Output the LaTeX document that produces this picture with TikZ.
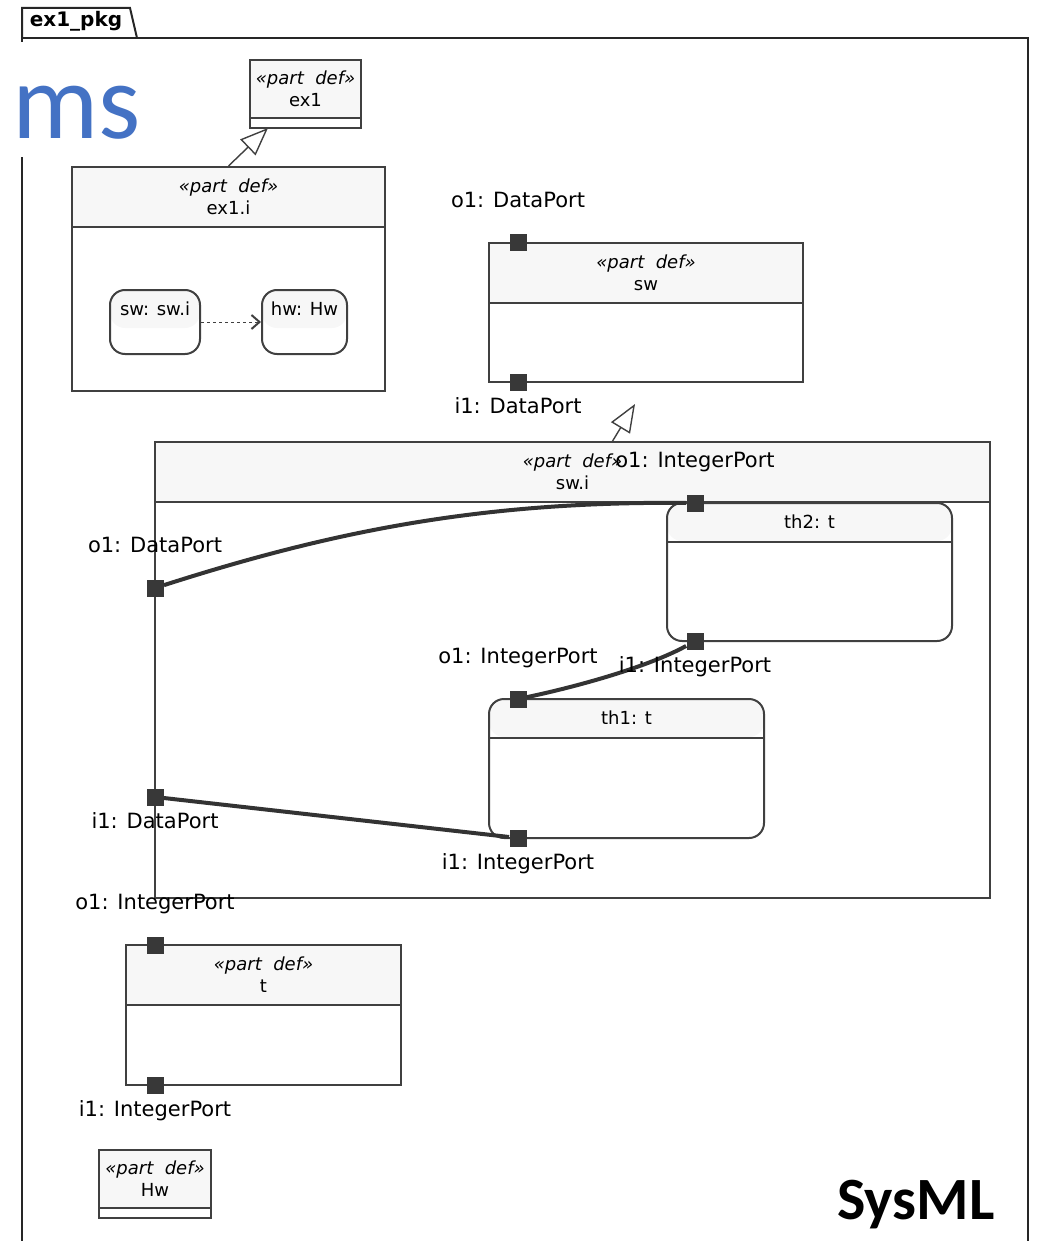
\documentclass[tikz,border=0pt]{standalone}
\usepackage{fontspec}
\setmainfont{DejaVu Sans}
\newfontfamily\slidefont{Carlito}
\usetikzlibrary{arrows.meta, calc, fit, positioning}

\definecolor{boxline}{HTML}{404040}
\definecolor{hdrfill}{HTML}{F7F7F7}
\definecolor{portfill}{HTML}{383838}
\definecolor{slideblue}{HTML}{4472C4}
\newcommand{\partdef}{\textit{«part~~def»}}

\begin{document}
\begin{tikzpicture}[x=0.5pt, y=-0.5pt]
      \tikzset{frame/.style = {draw=black!85, line width=1pt}}
      \tikzset{body/.style = {draw=boxline, line width=1pt, inner sep=0pt}}
      \tikzset{head/.style = {draw=boxline, fill=hdrfill, line width=1pt, inner sep=0pt}}
      \tikzset{htext/.style = {inner sep=0pt, align=center, font=\fontsize{9}{11}\selectfont}}
      \tikzset{usage/.style = {body, rounded corners=7.5pt}}
      \tikzset{usagehd/.style = {head, draw=none, rounded corners=7.5pt}}
      \tikzset{port/.style = {shape=rectangle, fill=portfill, minimum size=8.5pt, inner sep=0pt}}
      \tikzset{plabel/.style = {inner sep=0pt, text height=8pt, text depth=2.5pt, font=\fontsize{10.5}{12}\selectfont}}
      \tikzset{conn/.style = {draw=black!80, line width=2pt}}
      \tikzset{gen/.style = {draw=boxline, line width=0.7pt, -{Triangle[open, length=14pt, width=11pt]}}}
      \tikzset{dep/.style = {draw=boxline, line width=0.5pt, dash pattern=on 1.5pt off 1.5pt, -{Straight Barb[length=4pt, width=7pt, line width=1pt]}}}

      \useasboundingbox (0,0) rectangle (1040,1241);

      \draw[frame] (22,1241) -- (22,38) -- (1028,38) -- (1028,1241);
      \draw[frame] (22,38) -- (22,8) -- (130,8) -- (137,38);
      \node[font=\bfseries\fontsize{10}{12}\selectfont] (pkg) at (76,21) {ex1\_pkg};

      \node[font=\slidefont\fontsize{54}{58}\selectfont, text=slideblue, fill=white, anchor=base east,
            inner xsep=4pt, inner ysep=0pt, text height=48.5pt, text depth=9pt] (ms) at (149,139) {ms};

      \node[head, fit={(250,60) (361,118)}] (ex1hd) {};
      \node[body, fit={(250,60) (361,128)}] (ex1) {};
      \node[htext] (ex1tx) at (ex1hd) {\partdef\\ex1};

      \node[head, fit={(72,167) (385,227)}] (ex1ihd) {};
      \node[body, fit={(72,167) (385,391)}] (ex1i) {};
      \node[htext] (ex1itx) at (ex1ihd) {\partdef\\ex1.i};
      \node[usagehd, fit={(110,290) (200,328)}] (swparthd) {};
      \node[usage, fit={(110,290) (200,354)}] (swpart) {};
      \node[htext] (swparttx) at (swparthd) {sw: sw.i};
      \node[usagehd, fit={(262,290) (347,328)}] (hwparthd) {};
      \node[usage, fit={(262,290) (347,354)}] (hwpart) {};
      \node[htext] (hwparttx) at (hwparthd) {hw: Hw};
      \draw[dep] (swpart) -- (hwpart);

      \coordinate (ex1gen) at (268,128);
      \draw[gen] (ex1i.north) -- (ex1gen);

      \node[head, fit={(489,243) (803,303)}] (swhd) {};
      \node[body, fit={(489,243) (803,382)}] (sw) {};
      \node[htext] (swtx) at (swhd) {\partdef\\sw};
      \node[port] (swo1) at (518,243) {};
      \node[port] (swi1) at (518,382) {};
      \node[plabel, above=10.5pt of swo1] (swo1lb) {o1: DataPort};
      \node[plabel, below=3pt of swi1] (swi1lb) {i1: DataPort};

      \coordinate (swigen) at (612,442);
      \coordinate (swgen) at (635,404);
      \draw[gen] (swigen) -- (swgen);

      \node[head, fit={(155,442) (990,502)}] (swihd) {};
      \node[body, fit={(155,442) (990,898)}] (swi) {};
      \node[htext] (switx) at (swihd) {\partdef\\sw.i};

      \node[usagehd, fit={(667,503) (952,541)}] (th2hd) {};
      \node[usage, fit={(667,503) (952,641)}] (th2) {};
      \draw[boxline, line width=1pt] (th2hd.south west) -- (th2hd.south east);
      \node[htext] (th2tx) at (th2hd) {th2: t};

      \node[usagehd, fit={(489,699) (764,737)}] (th1hd) {};
      \node[usage, fit={(489,699) (764,838)}] (th1) {};
      \draw[boxline, line width=1pt] (th1hd.south west) -- (th1hd.south east);
      \node[htext] (th1tx) at (th1hd) {th1: t};

      \node[port] (swio1) at (155,588) {};
      \node[port] (swii1) at (155,797) {};
      \node[port] (th2o1) at (695,503) {};
      \node[port] (th2i1) at (695,641) {};
      \node[port] (th1o1) at (518,699) {};
      \node[port] (th1i1) at (518,838) {};

      \draw[conn] (swio1) .. controls (330,532) and (480,501) .. (th2o1);
      \draw[conn] (th1o1) .. controls (580,686) and (650,666) .. (th2i1);
      \draw[conn] (swii1) -- (th1i1);

      \node[plabel, above=10.5pt of swio1] (swio1lb) {o1: DataPort};
      \node[plabel, below=3pt of swii1] (swii1lb) {i1: DataPort};
      \node[plabel, above=10.5pt of th2o1] (th2o1lb) {o1: IntegerPort};
      \node[plabel, below=3pt of th2i1] (th2i1lb) {i1: IntegerPort};
      \node[plabel, above=10.5pt of th1o1] (th1o1lb) {o1: IntegerPort};
      \node[plabel, below=3pt of th1i1] (th1i1lb) {i1: IntegerPort};

      \node[head, fit={(126,945) (401,1005)}] (thd) {};
      \node[body, fit={(126,945) (401,1085)}] (t) {};
      \node[htext] (ttx) at (thd) {\partdef\\t};
      \node[port] (to1) at (155,945) {};
      \node[port] (ti1) at (155,1085) {};
      \node[plabel, above=10.5pt of to1] (to1lb) {o1: IntegerPort};
      \node[plabel, below=3pt of ti1] (ti1lb) {i1: IntegerPort};

      \node[head, fit={(99,1150) (211,1208)}] (hwhd) {};
      \node[body, fit={(99,1150) (211,1218)}] (hw) {};
      \node[htext] (hwtx) at (hwhd) {\partdef\\Hw};

      \node[font=\slidefont\bfseries\fontsize{30}{34}\selectfont, anchor=base] (sysml) at (916,1219) {SysML};
    \end{tikzpicture}
\end{document}
